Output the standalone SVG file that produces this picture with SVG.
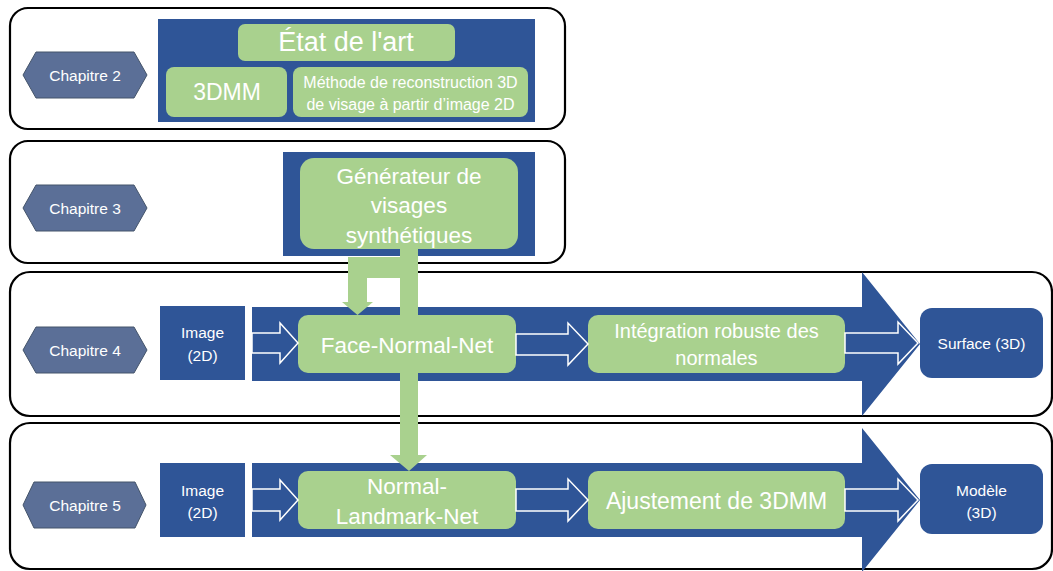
<svg xmlns="http://www.w3.org/2000/svg" width="1053" height="571" viewBox="0 0 1053 571">
  <defs>
    <style>
      .panel { fill: #ffffff; stroke: #000000; stroke-width: 2.2; }
      .blue { fill: #2F5597; }
      .green { fill: #A9D18E; }
      .hex { fill: #5B6F97; stroke: #44546A; stroke-width: 1; }
      .hollow { fill: #2F5597; stroke: #ffffff; stroke-width: 1.5; stroke-linejoin: miter; }
      .flow { fill: #A9D18E; }
      text { font-family: "Liberation Sans", Arial, sans-serif; fill: #ffffff; text-anchor: middle; }
      .s { font-size: 15.5px; }
      .m { font-size: 16px; }
      .l { font-size: 22.5px; }
    </style>
  </defs>
  <rect width="1053" height="571" fill="#ffffff"/>

  <!-- chapter frames -->
  <g id="frames">
    <rect class="panel" x="10" y="8" width="555" height="121" rx="18"/>
    <rect class="panel" x="10" y="141" width="555" height="122" rx="18"/>
    <rect class="panel" x="10" y="272" width="1042" height="144" rx="20"/>
    <rect class="panel" x="10" y="423" width="1042" height="146" rx="20"/>
  </g>

  <!-- chapter 2 -->
  <g id="chapitre2">
    <polygon class="hex" points="23,75 36,52 134,52 147,75 134,98 36,98"/>
    <text class="s" x="85" y="80.5">Chapitre 2</text>
  </g>
  <g id="bloc-etat">
    <rect class="blue" x="158" y="19" width="377" height="103"/>
  </g>
  <g id="etat-art">
    <rect class="green" x="238" y="24" width="217" height="37" rx="7"/>
    <text x="346" y="51" style="font-size:27px">État de l'art</text>
  </g>
  <g id="node-3dmm">
    <rect class="green" x="166" y="67" width="121" height="50" rx="8"/>
    <text x="227" y="100" style="font-size:23px">3DMM</text>
  </g>
  <g id="methode">
    <rect class="green" x="293" y="67" width="235" height="50" rx="8"/>
    <text class="m" x="410.5" y="88">Méthode de reconstruction 3D</text>
    <text class="m" x="410.5" y="110">de visage à partir d’image 2D</text>
  </g>

  <!-- chapter 3 -->
  <g id="chapitre3">
    <polygon class="hex" points="23,208 36,185 134,185 147,208 134,231 36,231"/>
    <text class="s" x="85" y="213.5">Chapitre 3</text>
  </g>
  <g id="bloc-generateur">
    <rect class="blue" x="283" y="152" width="252" height="104"/>
  </g>
  <g id="generateur">
    <rect class="green" x="300" y="158" width="218" height="91" rx="14"/>
  </g>

  <!-- chapter 4 -->
  <g id="chapitre4">
    <polygon class="hex" points="23,350 36,327 134,327 147,350 134,373 36,373"/>
    <text class="s" x="85" y="355.5">Chapitre 4</text>
  </g>
  <g id="pipeline4">
    <polygon class="blue" points="252,307 862,307 862,272 920,344 862,416 862,381 252,381"/>
  </g>
  <g id="image4">
    <rect class="blue" x="160" y="306" width="85" height="74"/>
    <text class="s" x="202.5" y="338">Image</text>
    <text class="s" x="202.5" y="361">(2D)</text>
  </g>
  <g id="face-normal-net">
    <rect class="green" x="298" y="315" width="218" height="58" rx="10"/>
  </g>
  <g id="integration">
    <rect class="green" x="588" y="315" width="257" height="58" rx="10"/>
    <text x="716.5" y="338" style="font-size:20px">Intégration robuste des</text>
    <text x="716.5" y="365" style="font-size:20px">normales</text>
  </g>
  <g id="surface">
    <rect class="blue" x="920" y="308" width="123" height="70" rx="12"/>
    <text class="s" x="981.5" y="349">Surface (3D)</text>
  </g>

  <!-- chapter 5 -->
  <g id="chapitre5">
    <polygon class="hex" points="23,505 34,482 135,482 146,505 135,528 34,528"/>
    <text class="s" x="85" y="510.5">Chapitre 5</text>
  </g>
  <g id="pipeline5">
    <polygon class="blue" points="252,463 862,463 862,428 920,500 862,572 862,537 252,537"/>
  </g>
  <g id="image5">
    <rect class="blue" x="160" y="463" width="85" height="74"/>
    <text class="s" x="202.5" y="496">Image</text>
    <text class="s" x="202.5" y="518">(2D)</text>
  </g>
  <g id="normal-landmark-net">
    <rect class="green" x="298" y="471" width="218" height="58" rx="10"/>
  </g>
  <g id="ajustement">
    <rect class="green" x="588" y="471" width="257" height="58" rx="10"/>
    <text x="716.5" y="509" style="font-size:23px">Ajustement de 3DMM</text>
  </g>
  <g id="modele">
    <rect class="blue" x="920" y="464" width="123" height="70" rx="12"/>
    <text class="s" x="981.5" y="496">Modèle</text>
    <text class="s" x="981.5" y="518">(3D)</text>
  </g>

  <!-- connectors -->
  <g id="connectors">
    <!-- hollow flow arrows, chapter 4 -->
    <polygon class="hollow" points="252,333 280,333 280,323 298,343 280,363 280,353 252,353"/>
    <polygon class="hollow" points="516,334 568,334 568,323 588,344 568,365 568,355 516,355"/>
    <polygon class="hollow" points="845,333 898,333 898,322 918,343 898,364 898,353 845,353"/>
    <!-- hollow flow arrows, chapter 5 -->
    <polygon class="hollow" points="252,489 280,489 280,480 298,500 280,520 280,511 252,511"/>
    <polygon class="hollow" points="516,489 568,489 568,479 588,500 568,521 568,511 516,511"/>
    <polygon class="hollow" points="845,489 898,489 898,479 918,500 898,521 898,511 845,511"/>
    <!-- synthetic data feeding both networks -->
    <polygon class="flow" points="348,257 417,257 417,278 367,278 367,302 373,302 357.5,315 342,302 348,302"/>
    <polygon class="flow" points="400,249 418,249 418,455 427,455 409,471 390,455 400,455"/>
  </g>

  <!-- labels drawn over the connectors -->
  <g id="labels">
    <text class="l" x="409" y="184">Générateur de</text>
    <text class="l" x="409" y="213">visages</text>
    <text class="l" x="409" y="243">synthétiques</text>
    <text class="l" x="407" y="353">Face-Normal-Net</text>
    <text class="l" x="407" y="494">Normal-</text>
    <text class="l" x="407" y="524">Landmark-Net</text>
  </g>
</svg>
